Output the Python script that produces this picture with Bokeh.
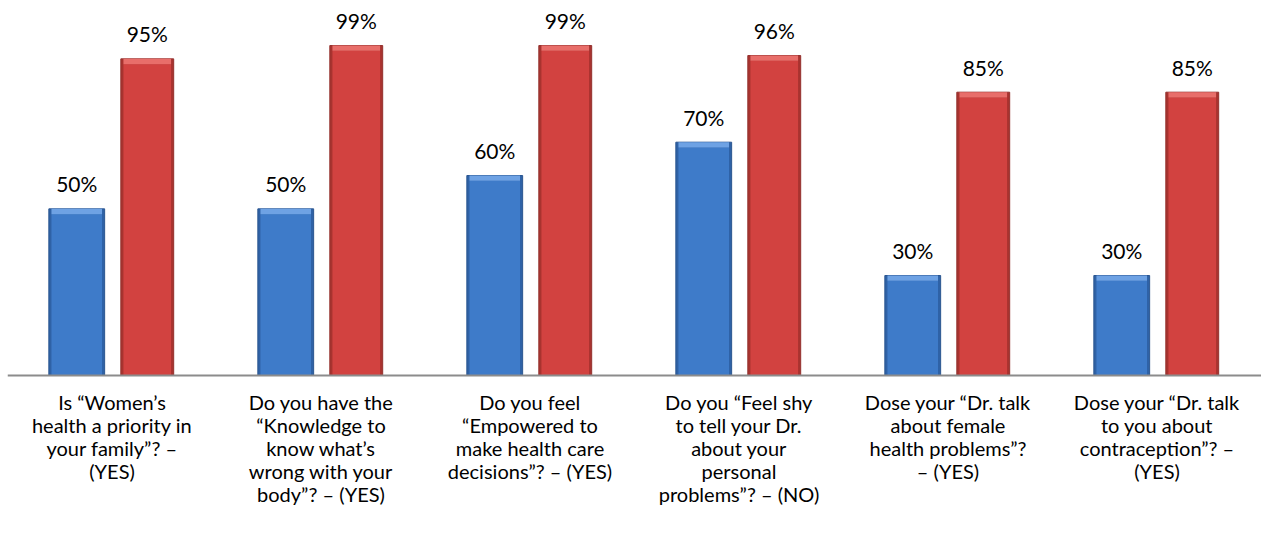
from bokeh.plotting import figure
from bokeh.models import ColumnDataSource, FactorRange, Span
from bokeh.transform import dodge
from bokeh.core.properties import value
from bokeh.embed import file_html
from bokeh.resources import INLINE

categories = ["c1", "c2", "c3", "c4", "c5", "c6"]
labels = [
    "Is \u201cWomen\u2019s\nhealth a priority in\nyour family\u201d? \u2013\n(YES)",
    "Do you have the\n\u201cKnowledge to\nknow what\u2019s\nwrong with your\nbody\u201d? \u2013 (YES)",
    "Do you feel\n\u201cEmpowered to\nmake health care\ndecisions\u201d? \u2013 (YES)",
    "Do you \u201cFeel shy\nto tell your Dr.\nabout your\npersonal\nproblems\u201d? \u2013 (NO)",
    "Dose your \u201cDr. talk\nabout female\nhealth problems\u201d?\n\u2013 (YES)",
    "Dose your \u201cDr. talk\nto you about\ncontraception\u201d? \u2013\n(YES)",
]
blue_vals = [50, 50, 60, 70, 30, 30]
red_vals = [95, 99, 99, 96, 85, 85]

src = ColumnDataSource(dict(
    cat=categories, lab=labels, blue=blue_vals, red=red_vals,
    blue_txt=[f"{v}%" for v in blue_vals], red_txt=[f"{v}%" for v in red_vals],
    zero=[0] * len(categories),
    blue_hi=[v - 1.6 for v in blue_vals], red_hi=[v - 1.6 for v in red_vals],
))

frame_w, frame_h = 1254, 540
left_pad, top_pad = 7, 8
px_per = 3.333
y_end = 367 / px_per
y_start = -(frame_h - 367) / px_per

p = figure(x_range=FactorRange(*categories, range_padding=0), y_range=(y_start, y_end),
           width=frame_w + left_pad, height=frame_h + top_pad,
           output_backend="svg", toolbar_location=None,
           min_border=0, min_border_left=left_pad, min_border_right=0,
           min_border_top=top_pad, min_border_bottom=0)
p.axis.visible = False
p.grid.visible = False
p.outline_line_color = None
p.background_fill_color = "white"
p.border_fill_color = "white"

bo, ro = -0.1687, 0.1687
bw, rw = 0.267, 0.253

# blue bars: dark edge, body, light top bevel
p.vbar(x=dodge("cat", bo, range=p.x_range), top="blue", bottom=0, width=bw, source=src,
       fill_color="#2F62A6", line_color="#2A5590")
p.vbar(x=dodge("cat", bo, range=p.x_range), top="blue_hi", bottom=0, width=bw - 0.025, source=src,
       fill_color="#3E7BC9", line_color=None)
p.vbar(x=dodge("cat", bo, range=p.x_range), top="blue", bottom="blue_hi", width=bw - 0.025, source=src,
       fill_color="#6EA2E4", line_color=None)

# red bars
p.vbar(x=dodge("cat", ro, range=p.x_range), top="red", bottom=0, width=rw, source=src,
       fill_color="#A8332F", line_color="#93302D")
p.vbar(x=dodge("cat", ro, range=p.x_range), top="red_hi", bottom=0, width=rw - 0.025, source=src,
       fill_color="#D24240", line_color=None)
p.vbar(x=dodge("cat", ro, range=p.x_range), top="red", bottom="red_hi", width=rw - 0.025, source=src,
       fill_color="#E86E6A", line_color=None)

p.add_layout(Span(location=0, dimension="width", line_color="#8C8C8C", line_width=2))

font = value("Lato")
p.text(x=dodge("cat", bo, range=p.x_range), y="blue", text="blue_txt", source=src,
       text_align="center", text_baseline="middle", y_offset=-25,
       text_font=font, text_font_size="21px", text_color="#000000")
p.text(x=dodge("cat", ro, range=p.x_range), y="red", text="red_txt", source=src,
       text_align="center", text_baseline="middle", y_offset=-25,
       text_font=font, text_font_size="21px", text_color="#000000")

p.text(x="cat", y="zero", text="lab", source=src, text_align="center", text_baseline="top",
       y_offset=14, text_font=font, text_font_size="20px", text_line_height=0.96,
       text_color="#000000")

open("out.html", "w").write(file_html(p, INLINE))
